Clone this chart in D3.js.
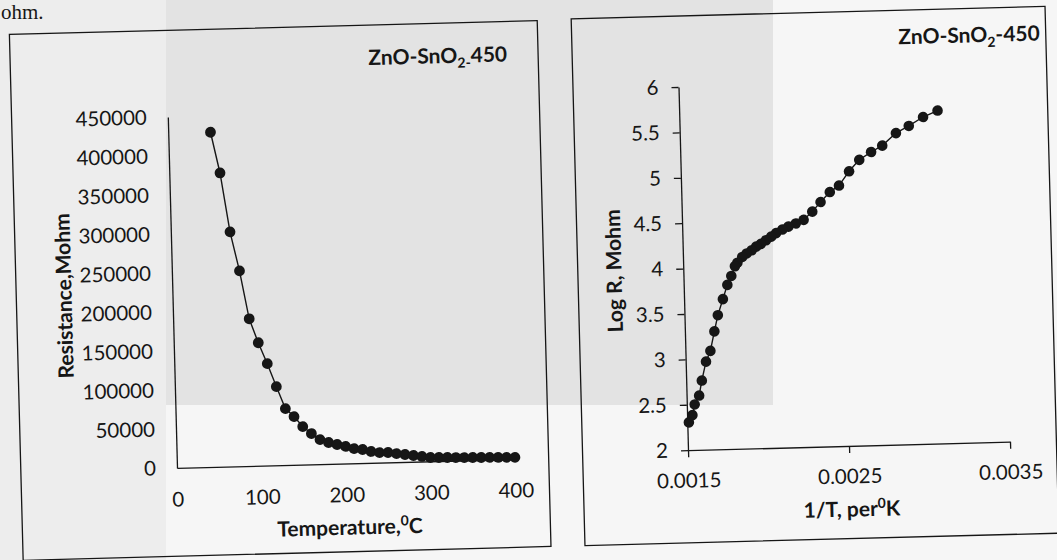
<!DOCTYPE html>
<html><head><meta charset="utf-8">
<script src="https://cdn.jsdelivr.net/npm/d3@7"></script>
<style>
html,body{margin:0;padding:0;background:#f6f6f6;}
svg{display:block;}
text{font-family:Lato,"Open Sans",sans-serif;fill:#161616;}
</style></head><body>
<svg id="c" width="1057" height="560"></svg>
<script>
// ---- data ----
const tempC = [50,60,70,80,90,100,110,120,130,140,150,160,170,180,190,200,210,220,230,240,250,260,270,280,290,300,310,320,330,340,350,360,370,380,390,400];
const resistance = [429000,376500,300600,250400,188700,157700,130600,100900,72400,61900,48800,39600,31600,27500,24700,21900,18900,17400,14600,12900,12700,11100,9600,8000,6500,4900,4600,4300,4000,3700,3500,3200,3000,2700,2500,2200];
const invT = [0.003104,0.003013,0.002923,0.002842,0.002755,0.002685,0.002610,0.002545,0.002480,0.002422,0.002363,0.002310,0.002255,0.002206,0.002159,0.002121,0.002082,0.002051,0.002018,0.001986,0.001956,0.001928,0.001896,0.001868,0.001837,0.001821,0.001797,0.001771,0.001741,0.001707,0.001683,0.001655,0.001626,0.001597,0.001578,0.001549,0.001533,0.001510];
const logR = [5.666,5.599,5.505,5.430,5.296,5.229,5.146,5.023,4.869,4.800,4.693,4.590,4.501,4.464,4.431,4.401,4.364,4.326,4.288,4.250,4.221,4.182,4.148,4.111,4.049,4.011,3.905,3.808,3.652,3.477,3.300,3.086,2.969,2.762,2.598,2.501,2.384,2.306];
const resTicks = [0,50000,100000,150000,200000,250000,300000,350000,400000,450000];
const tempTicks = [0,100,200,300,400];
const logTicks = [2,2.5,3,3.5,4,4.5,5,5.5,6];
const invTTicks = [0.0015,0.0025,0.0035];
const chartTitle = ["ZnO-SnO","2","-450"];
const leftXTitle = ["Temperature,","0","C"];
const leftYTitle = "Resistance,Mohm";
const rightXTitle = ["1/T, per","0","K"];
const rightYTitle = "Log R, Mohm";

const svg = d3.select("#c");
// scanned page background
svg.append("rect").attr("x",0).attr("y",0).attr("width",1057).attr("height",560).attr("fill","#f6f6f6");
svg.append("rect").attr("x",0).attr("y",0).attr("width",166).attr("height",560).attr("fill","#ededed");
svg.append("rect").attr("x",166).attr("y",0).attr("width",607).attr("height",405).attr("fill","#e3e3e3");
svg.append("text").attr("x",1).attr("y",19).style("font-family","'Liberation Serif',serif").style("font-size","21px").text("ohm.");

const g = svg.append("g").attr("transform","rotate(-1.5 528 280)");
const ink = "#161616";

function panel(x,y,w,h){
  g.append("rect").attr("x",x).attr("y",y).attr("width",w).attr("height",h)
   .attr("fill","none").attr("stroke",ink).attr("stroke-width",1.3);
}
function styleAxis(sel,fs){
  sel.select(".domain").attr("stroke",ink).attr("stroke-width",1.3);
  sel.selectAll(".tick line").attr("stroke",ink).attr("stroke-width",1.3);
  sel.selectAll(".tick text").style("font-size",fs+"px").attr("fill",ink).style("font-family","Lato,sans-serif");
}
function title(x,y,parts,anchor,subHyphen){
  const t = g.append("text").attr("x",x).attr("y",y).attr("text-anchor",anchor)
    .style("font-size","21px").style("font-weight","700");
  t.append("tspan").text(parts[0]);
  t.append("tspan").attr("dy",5).style("font-size","14px").text(subHyphen ? parts[1]+"-" : parts[1]);
  t.append("tspan").attr("dy",-5).text(subHyphen ? parts[2].slice(1) : parts[2]);
}
function supTitle(x,y,parts){
  const t = g.append("text").attr("x",x).attr("y",y).attr("text-anchor","middle")
    .style("font-size","21px").style("font-weight","700");
  t.append("tspan").text(parts[0]);
  t.append("tspan").attr("dy",-8).style("font-size","14px").text(parts[1]);
  t.append("tspan").attr("dy",8).text(parts[2]);
}
function yTitle(x,y,txt){
  g.append("text").attr("transform",`translate(${x},${y}) rotate(-90)`)
   .attr("text-anchor","middle").attr("dominant-baseline","central")
   .style("font-size","21px").style("font-weight","700").text(txt);
}

// ---------- left panel ----------
panel(16,21,528,526);
const xL = d3.scaleLinear().domain([0,400]).range([172.2,510.3]);
const yL = d3.scaleLinear().domain([0,450000]).range([458.7,107.6]);
const axYL = g.append("g").attr("transform",`translate(${xL(0)},0)`)
  .call(d3.axisLeft(yL).tickValues(resTicks).tickSize(0).tickPadding(21).tickFormat(d3.format("d")));
styleAxis(axYL,20.5);
const axXL = g.append("g").attr("transform",`translate(0,${yL(0)})`)
  .call(d3.axisBottom(xL).tickValues(tempTicks).tickSize(0).tickPadding(24).tickFormat(d3.format("d")));
styleAxis(axXL,20.5);
const ptsL = tempC.map((t,i)=>[t,resistance[i]]);
g.append("path").datum(ptsL).attr("fill","none").attr("stroke",ink).attr("stroke-width",1.4)
  .attr("d",d3.line().x(d=>xL(d[0])).y(d=>yL(d[1])));
g.append("g").selectAll("circle").data(ptsL).join("circle")
  .attr("cx",d=>xL(d[0])).attr("cy",d=>yL(d[1])).attr("r",5.4).attr("fill",ink);
title(513,61,chartTitle,"end",true);
supTitle(343.6,530,leftXTitle);
yTitle(62.8,283.8,leftYTitle);

// ---------- right panel ----------
panel(578,20,474,527);
const xR = d3.scaleLinear().domain([0.0015,0.0035]).range([683.5,1005.6]);
const yR = d3.scaleLinear().domain([2,6]).range([454.3,91.0]);
const axYR = g.append("g").attr("transform",`translate(${xR(0.0015)},0)`)
  .call(d3.axisLeft(yR).tickValues(logTicks).tickSize(7).tickSizeOuter(0).tickPadding(13).tickFormat(d=>String(d)));
styleAxis(axYR,20.5);
const axXR = g.append("g").attr("transform",`translate(0,${yR(2)})`)
  .call(d3.axisBottom(xR).tickValues(invTTicks).tickSize(7).tickSizeOuter(0).tickPadding(16).tickFormat(d3.format(".4f")));
styleAxis(axXR,20.5);
const ptsR = invT.map((v,i)=>[v,logR[i]]);
g.append("path").datum(ptsR).attr("fill","none").attr("stroke",ink).attr("stroke-width",1.4)
  .attr("d",d3.line().x(d=>xR(d[0])).y(d=>yR(d[1])));
g.append("g").selectAll("circle").data(ptsR).join("circle")
  .attr("cx",d=>xR(d[0])).attr("cy",d=>yR(d[1])).attr("r",5.3).attr("fill",ink);
title(1046,54,chartTitle,"end",false);
supTitle(845.9,525,rightXTitle);
yTitle(613.2,273.2,rightYTitle);
</script>
</body></html>
